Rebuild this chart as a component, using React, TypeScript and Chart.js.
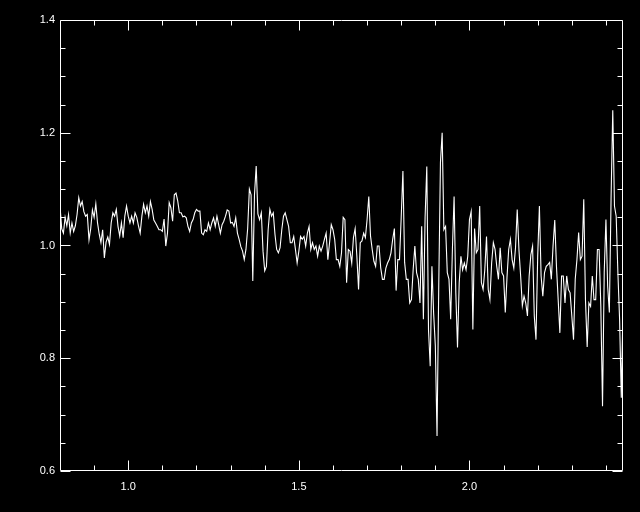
import React, { useEffect, useRef } from "react";
import { Chart, registerables } from "chart.js";

Chart.register(...registerables);

// Wavelength grid (uniform sampling) and axis ranges
const X_START = 0.8;
const X_STEP = 0.005;
const X_MIN = 0.8;
const X_MAX = 2.45;
const Y_MIN = 0.6;
const Y_MAX = 1.4;

// Tick values
const X_MAJOR = [1.0, 1.5, 2.0];
const X_MINOR = [0.9, 1.1, 1.2, 1.3, 1.4, 1.6, 1.7, 1.8, 1.9, 2.1, 2.2, 2.3, 2.4];
const Y_MAJOR = [0.6, 0.8, 1.0, 1.2, 1.4];
const Y_MINOR = [0.65, 0.7, 0.75, 0.85, 0.9, 0.95, 1.05, 1.1, 1.15, 1.25, 1.3, 1.35];

// Flux values
const FLUX = [
  1.070, 1.030, 1.022, 1.050, 1.035, 1.055, 1.022, 1.040, 1.025, 1.035,
  1.055, 1.085, 1.070, 1.078, 1.060, 1.052, 1.055, 1.010, 1.030, 1.063,
  1.050, 1.074, 1.040, 1.020, 1.005, 1.028, 0.978, 1.006, 1.015, 1.002,
  1.040, 1.058, 1.052, 1.064, 1.034, 1.017, 1.040, 1.014, 1.052, 1.070,
  1.052, 1.040, 1.052, 1.040, 1.058, 1.050, 1.035, 1.022, 1.052, 1.073,
  1.058, 1.070, 1.052, 1.078, 1.064, 1.045,
  1.040, 1.034, 1.028, 1.028, 1.025, 1.047, 0.999, 1.022, 1.076, 1.067,
  1.043, 1.090, 1.093, 1.079, 1.058, 1.058, 1.051, 1.052, 1.049, 1.034,
  1.025, 1.040, 1.046, 1.058, 1.064, 1.061, 1.061, 1.022, 1.019, 1.028,
  1.025, 1.040, 1.028, 1.040, 1.049, 1.034, 1.052, 1.037, 1.022, 1.037,
  1.043, 1.052, 1.063, 1.061, 1.040, 1.041, 1.034, 1.049, 1.022, 1.011,
  0.998, 0.990, 0.975, 0.993, 1.030, 1.100,
  1.090, 0.937, 1.090, 1.141, 1.056, 1.046, 1.058, 0.990, 0.955, 0.963,
  1.028, 1.064, 1.052, 1.058, 1.020, 0.993, 0.987, 0.996, 1.028, 1.052,
  1.058, 1.046, 1.034, 1.005, 1.005, 1.016, 0.993, 0.969, 0.990, 1.016,
  1.011, 1.016, 0.999, 1.022, 1.034, 0.993, 1.005, 0.993, 0.999, 0.981,
  0.999, 0.990, 0.999, 1.011, 1.022, 0.975, 1.005, 1.037, 1.028, 1.011,
  0.975, 0.975, 0.963,
  0.987, 1.050, 1.046, 0.934, 0.993, 0.990, 0.969, 1.014, 1.030, 0.981,
  0.922, 1.005, 1.008, 1.022, 1.014, 1.046, 1.087, 1.017, 0.993, 0.972,
  0.963, 0.999, 0.999, 0.960, 0.940, 0.940, 0.960, 0.969, 0.975, 0.987,
  1.011,
  1.030, 0.920, 0.975, 0.975, 1.050, 1.132, 0.970, 0.940, 0.940, 0.898,
  0.904, 0.957, 0.999, 0.952, 0.940, 0.898, 1.034, 0.869, 1.050, 1.140,
  0.850, 0.786, 0.963, 0.880, 0.822, 0.662, 0.928, 1.147, 1.200, 1.028,
  1.034, 0.952, 0.940, 0.869, 0.993, 1.087, 0.916, 0.819, 0.934, 0.981,
  0.957, 0.969, 0.957, 0.981, 1.046, 1.060, 0.851, 1.030,
  0.987, 0.993, 1.070, 0.934, 0.922, 0.957, 1.016, 0.922, 0.904, 0.969,
  1.005, 0.993, 0.963, 0.940, 0.996, 0.952, 0.946, 0.881, 0.943, 0.993,
  1.011, 0.975, 0.960, 0.996, 1.064, 0.993, 0.946, 0.893, 0.910, 0.898,
  0.875, 0.946, 0.984, 0.999, 0.875, 0.833, 0.981, 1.070, 0.946, 0.910,
  0.952, 0.963, 0.966, 0.970,
  0.940, 0.999, 1.045, 0.963, 0.904, 0.845, 0.946, 0.946, 0.898, 0.946,
  0.922, 0.916, 0.875, 0.833, 0.940, 0.975, 1.023, 0.975, 0.981, 1.082,
  0.904, 0.820, 0.898, 0.892, 0.946, 0.904, 0.904, 0.993, 0.993, 0.892,
  0.715, 0.952, 1.046, 0.928, 0.881, 1.082, 1.240, 1.070, 1.052, 0.952,
  0.869, 0.730, 0.890,
];

const FONT = { family: "'Liberation Sans', Arial, sans-serif", size: 11 };

const framePlugin = {
  id: "idlFrame",
  beforeDraw(chart: any) {
    const ctx = chart.ctx;
    ctx.save();
    ctx.fillStyle = "#000";
    ctx.fillRect(0, 0, chart.width, chart.height);
    ctx.restore();
  },
  afterDraw(chart: any) {
    const { ctx, chartArea: a, scales } = chart;
    const xs = scales.x;
    const ys = scales.y;
    const L = Math.round(a.left) + 0.5;
    const R = Math.round(a.right) - 0.5;
    const T = Math.round(a.top) + 0.5;
    const B = Math.round(a.bottom) - 0.5;
    ctx.save();
    ctx.strokeStyle = "#fff";
    ctx.lineWidth = 1;
    ctx.beginPath();
    ctx.moveTo(L, T);
    ctx.lineTo(R, T);
    ctx.lineTo(R, B);
    ctx.lineTo(L, B);
    ctx.closePath();
    const xt = (v: number, len: number) => {
      const p = Math.round(xs.getPixelForValue(v)) + 0.5;
      ctx.moveTo(p, B);
      ctx.lineTo(p, B - len);
      ctx.moveTo(p, T);
      ctx.lineTo(p, T + len);
    };
    const yt = (v: number, len: number) => {
      const p = Math.round(ys.getPixelForValue(v)) + 0.5;
      ctx.moveTo(L, p);
      ctx.lineTo(L + len, p);
      ctx.moveTo(R, p);
      ctx.lineTo(R - len, p);
    };
    X_MAJOR.forEach((v) => xt(v, 10));
    X_MINOR.forEach((v) => xt(v, 5));
    Y_MAJOR.forEach((v) => yt(v, 10));
    Y_MINOR.forEach((v) => yt(v, 5));
    ctx.stroke();
    ctx.restore();
  },
};

export default function App() {
  const ref = useRef<HTMLCanvasElement | null>(null);

  useEffect(() => {
    document.body.style.margin = "0";
    document.body.style.background = "#000";
    const canvas = ref.current;
    if (!canvas) return;
    const points = FLUX.map((f, i) => ({ x: X_START + i * X_STEP, y: f }));
    const chart = new Chart(canvas, {
      type: "line",
      data: {
        datasets: [
          {
            data: points,
            borderColor: "#ffffff",
            borderWidth: 1.1,
            pointRadius: 0,
            tension: 0,
            fill: false,
          },
        ],
      },
      options: {
        animation: false,
        responsive: false,
        devicePixelRatio: 1,
        layout: { padding: { top: 20, right: 17, left: 0, bottom: 0 } },
        plugins: { legend: { display: false }, tooltip: { enabled: false } },
        scales: {
          x: {
            type: "linear",
            min: X_MIN,
            max: X_MAX,
            grid: { display: false, drawTicks: false },
            border: { display: false },
            afterFit: (s: any) => {
              s.height = 41;
            },
            afterBuildTicks: (s: any) => {
              s.ticks = X_MAJOR.map((v) => ({ value: v }));
            },
            ticks: {
              color: "#fff",
              font: FONT,
              padding: 9,
              maxRotation: 0,
              autoSkip: false,
              callback: (v: any) => Number(v).toFixed(1),
            },
          },
          y: {
            type: "linear",
            min: Y_MIN,
            max: Y_MAX,
            grid: { display: false, drawTicks: false },
            border: { display: false },
            afterFit: (s: any) => {
              s.width = 60;
            },
            afterBuildTicks: (s: any) => {
              s.ticks = Y_MAJOR.map((v) => ({ value: v }));
            },
            ticks: {
              color: "#fff",
              font: FONT,
              padding: 5,
              autoSkip: false,
              callback: (v: any) => Number(v).toFixed(1),
            },
          },
        },
      },
      plugins: [framePlugin],
    });
    return () => chart.destroy();
  }, []);

  return (
    <div style={{ width: 640, height: 512, background: "#000" }}>
      <canvas ref={ref} width={640} height={512} style={{ display: "block", width: 640, height: 512 }} />
    </div>
  );
}
